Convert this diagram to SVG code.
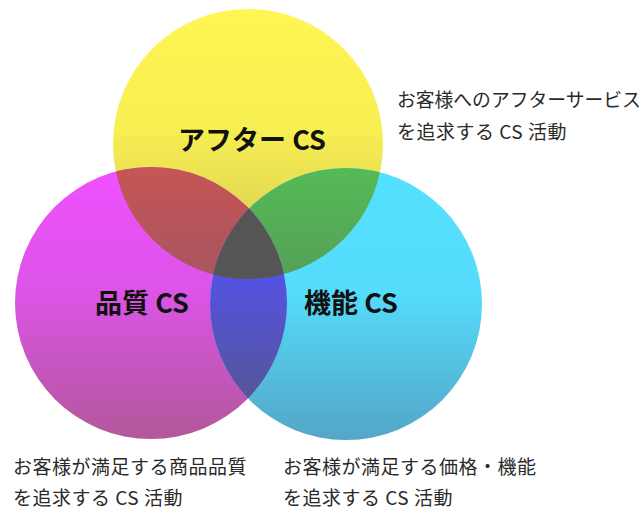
<svg xmlns="http://www.w3.org/2000/svg" width="644" height="509" viewBox="0 0 644 509">
<style>
.lbl{font-family:"Noto Sans CJK JP","Liberation Sans",sans-serif;font-weight:bold;font-size:27px;fill:#111;text-anchor:middle}
.note{font-family:"Noto Sans CJK JP","Liberation Sans",sans-serif;font-size:19px;fill:#2a2a2a;letter-spacing:0.5px}
</style>
<defs>
<linearGradient id="gY" x1="0" y1="0" x2="0" y2="1">
<stop offset="0" stop-color="#FFF652"/><stop offset="0.45" stop-color="#F7EE52"/><stop offset="1" stop-color="#CFC657"/>
</linearGradient>
<linearGradient id="gM" x1="0" y1="0" x2="0" y2="1">
<stop offset="0" stop-color="#F050FF"/><stop offset="0.45" stop-color="#DC54E8"/><stop offset="1" stop-color="#B2589A"/>
</linearGradient>
<linearGradient id="gC" x1="0" y1="0" x2="0" y2="1">
<stop offset="0" stop-color="#55E0FF"/><stop offset="0.45" stop-color="#55DCFC"/><stop offset="1" stop-color="#54A6C6"/>
</linearGradient>
<linearGradient id="gR" gradientUnits="userSpaceOnUse" x1="0" y1="170" x2="0" y2="278">
<stop offset="0" stop-color="#C65555"/><stop offset="1" stop-color="#A85560"/>
</linearGradient>
<linearGradient id="gG" gradientUnits="userSpaceOnUse" x1="0" y1="170" x2="0" y2="278">
<stop offset="0" stop-color="#55BA55"/><stop offset="1" stop-color="#55A058"/>
</linearGradient>
<linearGradient id="gB" gradientUnits="userSpaceOnUse" x1="0" y1="270" x2="0" y2="398">
<stop offset="0" stop-color="#5552E6"/><stop offset="1" stop-color="#55559A"/>
</linearGradient>
<clipPath id="cY"><circle cx="248" cy="144" r="135"/></clipPath>
<clipPath id="cM"><circle cx="151" cy="303" r="136"/></clipPath>
<clipPath id="cC"><circle cx="346" cy="304" r="136"/></clipPath>
</defs>
<rect width="644" height="509" fill="#fff"/>
<g id="after-cs">
<circle cx="248" cy="144" r="135" fill="url(#gY)"/>
</g>
<g id="quality-cs">
<circle cx="151" cy="303" r="136" fill="url(#gM)"/>
</g>
<g id="function-cs">
<circle cx="346" cy="304" r="136" fill="url(#gC)"/>
</g>
<g id="overlaps">
<g clip-path="url(#cY)"><circle cx="151" cy="303" r="136" fill="url(#gR)"/></g>
<g clip-path="url(#cY)"><circle cx="346" cy="304" r="136" fill="url(#gG)"/></g>
<g clip-path="url(#cM)"><circle cx="346" cy="304" r="136" fill="url(#gB)"/></g>
<g clip-path="url(#cY)"><g clip-path="url(#cM)"><circle cx="346" cy="304" r="136" fill="#555555"/></g></g>
</g>
<g id="labels">
<text class="lbl" x="252" y="150">アフター CS</text>
<text class="lbl" x="142" y="313">品質 CS</text>
<text class="lbl" x="351" y="313">機能 CS</text>
</g>
<g id="notes">
<text class="note" x="397" y="107" style="letter-spacing:0;font-size:18.8px">お客様へのアフターサービス</text>
<text class="note" x="397" y="139">を追求する CS 活動</text>
<text class="note" x="13" y="474">お客様が満足する商品品質</text>
<text class="note" x="13" y="505">を追求する CS 活動</text>
<text class="note" x="283" y="474">お客様が満足する価格・機能</text>
<text class="note" x="283" y="505">を追求する CS 活動</text>
</g>
</svg>
